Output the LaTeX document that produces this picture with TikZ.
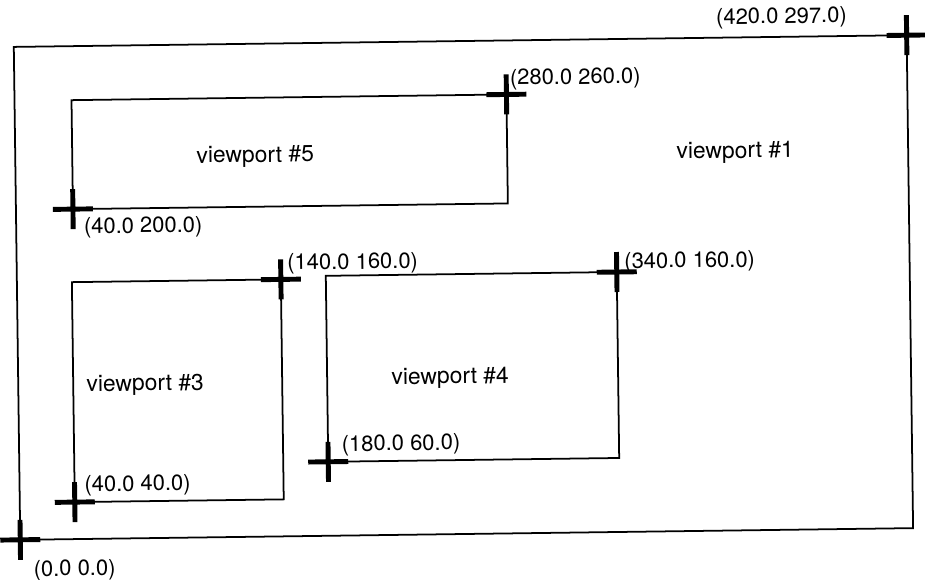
\documentclass[tikz,border=0pt]{standalone}
\usepackage{fontspec}
\setmainfont{TeX Gyre Heros}
\begin{document}
\begin{tikzpicture}[
    x=0.02cm, y=0.02cm,
    frame/.style={draw=black, line width=1pt},
    vplabel/.style={font=\fontsize{13}{15}\selectfont, inner sep=0pt},
    ptlabel/.style={font=\fontsize{12.5}{15}\selectfont, inner sep=0pt},
    plus/.style={draw=black, line width=2.8pt}
]
    \useasboundingbox (0,0) rectangle (925,579);
    \begin{scope}[rotate around={0.75:(463,290)}, transform shape]
        % Esquinas de los viewports
        \coordinate (o1) at (17,45);
        \coordinate (t1) at (910,538);
        \coordinate (o5) at (74,375);
        \coordinate (t5) at (509,484);
        \coordinate (o3) at (72,82);
        \coordinate (t3) at (281,302);
        \coordinate (o4) at (326,119);
        \coordinate (t4) at (617,305);

        % Marcos
        \draw[frame] (o1) rectangle (t1);
        \draw[frame] (o5) rectangle (t5);
        \draw[frame] (o3) rectangle (t3);
        \draw[frame] (o4) rectangle (t4);

        % Cruces en las esquinas
        \foreach \c in {o1,t1,o5,t5,o3,t3,o4,t4}
            \draw[plus] (\c) +(-20,0) -- +(20,0) (\c) +(0,-20) -- +(0,20);

        % Nombres de los viewports
        \node[vplabel] (v1) at (737,423) {viewport \#1};
        \node[vplabel] (v5) at (257,425) {viewport \#5};
        \node[vplabel] (v3) at (144,198) {viewport \#3};
        \node[vplabel] (v4) at (449,201) {viewport \#4};

        % Coordenadas de las esquinas
        \node[ptlabel] (p1t) at (785,557) {(420.0 297.0)};
        \node[ptlabel] (p1o) at (71,14) {(0.0 0.0)};
        \node[ptlabel] (p5t) at (578,499) {(280.0 260.0)};
        \node[ptlabel] (p5o) at (144,356) {(40.0 200.0)};
        \node[ptlabel] (p3t) at (353,317) {(140.0 160.0)};
        \node[ptlabel] (p3o) at (135,98) {(40.0 40.0)};
        \node[ptlabel] (p4t) at (690,314) {(340.0 160.0)};
        \node[ptlabel] (p4o) at (399,135) {(180.0 60.0)};
    \end{scope}
\end{tikzpicture}
\end{document}
